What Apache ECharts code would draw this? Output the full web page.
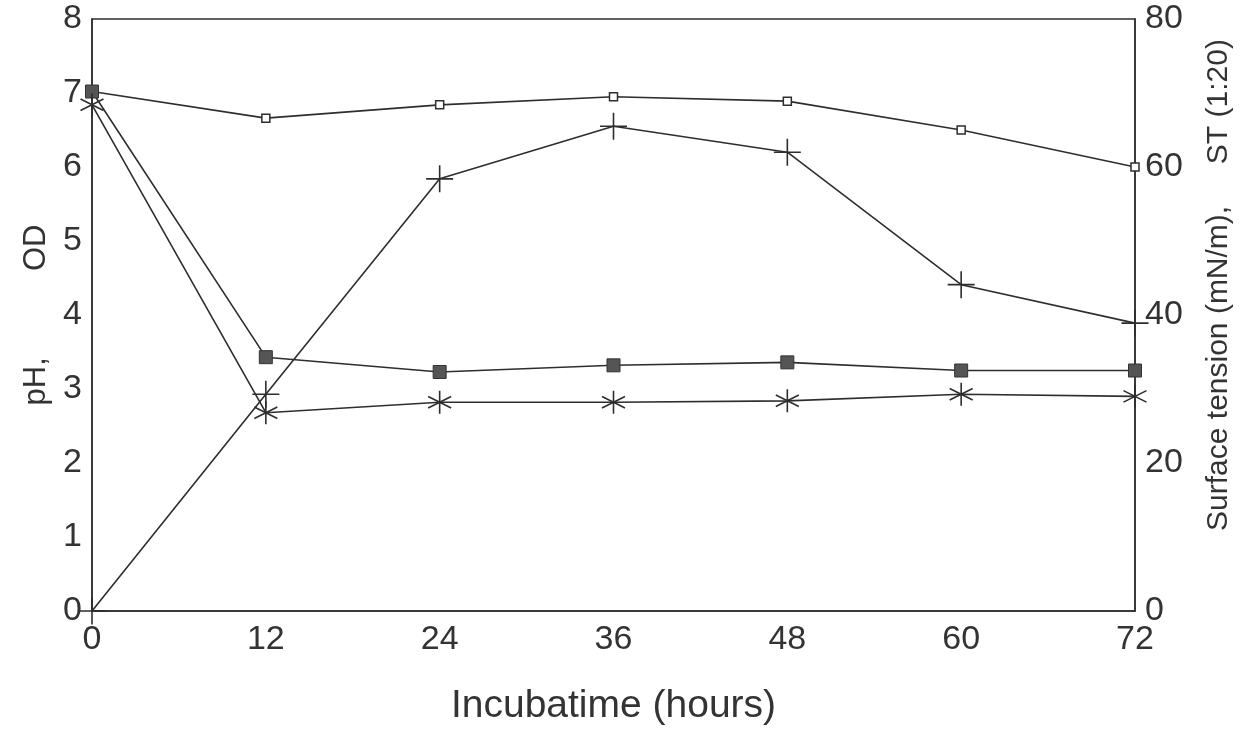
<!DOCTYPE html>
<html>
<head>
<meta charset="utf-8">
<style>
	html,body{
		margin:0;
		padding:0;
		background:#fff;
	}
	#main{
		width:1242px;
		height:731px;
	}
</style>
<script src="https://cdn.jsdelivr.net/npm/echarts@6/dist/echarts.min.js"></script>
</head>
<body>
<div id="main"></div>
<script>
// incubation time, hours
var hours = [0, 12, 24, 36, 48, 60, 72];
// left axis (pH, OD)
var ph = [7.02, 3.43, 3.23, 3.32, 3.36, 3.25, 3.25];
var od = [0, 2.93, 5.84, 6.55, 6.2, 4.41, 3.89];
// right axis (mN/m)
var surfTension = [68.4, 26.8, 28.2, 28.2, 28.4, 29.3, 29.0];
var st20 = [70.2, 66.6, 68.4, 69.5, 68.9, 65, 60];

function pairs(vals){
	return hours.map(function(h, i){ return [h, vals[i]]; });
}

var lineCol = '#2e2e2e';
var txtCol = '#333';
var font = 'Liberation Sans';

var myChart = echarts.init(document.getElementById('main'));
var option = {
	backgroundColor: '#fff',
	animation: false,
	grid: {
		left: 92,
		right: 104,
		top: 19,
		bottom: 119,
		show: true,
		borderColor: lineCol,
		borderWidth: 1.5
	},
	xAxis: {
		type: 'value',
		min: 0,
		max: 72,
		interval: 12,
		name: 'Incubatime (hours)',
		nameLocation: 'middle',
		nameGap: 76,
		nameTextStyle: { fontFamily: font, fontSize: 39, color: txtCol },
		axisLine: { lineStyle: { color: lineCol, width: 1.5 } },
		axisTick: { show: false },
		splitLine: { show: false },
		axisLabel: { fontFamily: font, fontSize: 34, color: txtCol, margin: 12 }
	},
	yAxis: [{
		type: 'value',
		min: 0,
		max: 8,
		interval: 1,
		name: 'pH,          OD',
		nameLocation: 'middle',
		nameGap: 38,
		nameTextStyle: { fontFamily: font, fontSize: 31, color: txtCol },
		axisLine: { show: true, lineStyle: { color: lineCol, width: 1.5 } },
		axisTick: { show: false },
		splitLine: { show: false },
		axisLabel: { fontFamily: font, fontSize: 34, color: txtCol, margin: 10 }
	}, {
		type: 'value',
		min: 0,
		max: 80,
		interval: 20,
		position: 'right',
		name: 'Surface tension (mN/m),     ST (1:20)',
		nameLocation: 'middle',
		nameRotate: 90,
		nameGap: 69,
		nameTextStyle: { fontFamily: font, fontSize: 30, color: txtCol, padding: [0, 0, 0, 60] },
		axisLine: { show: true, lineStyle: { color: lineCol, width: 1.5 } },
		axisTick: { show: false },
		splitLine: { show: false },
		axisLabel: { fontFamily: font, fontSize: 34, color: txtCol, margin: 10 }
	}],
	series: [{
		name: 'ST (1:20)',
		type: 'line',
		yAxisIndex: 1,
		data: pairs(st20),
		symbol: 'rect',
		symbolSize: 8,
		lineStyle: { color: lineCol, width: 1.6 },
		itemStyle: { color: '#fff', borderColor: lineCol, borderWidth: 1.5 }
	}, {
		name: 'OD',
		type: 'line',
		data: pairs(od),
		symbol: 'path://M0,-10L0,10M-10,0L10,0',
		symbolSize: 27,
		lineStyle: { color: lineCol, width: 1.6 },
		itemStyle: { color: 'none', borderColor: lineCol, borderWidth: 1.6 }
	}, {
		name: 'pH',
		type: 'line',
		data: pairs(ph),
		symbol: 'rect',
		symbolSize: 13,
		lineStyle: { color: lineCol, width: 1.6 },
		itemStyle: { color: '#555', borderColor: '#333', borderWidth: 1 }
	}, {
		name: 'Surface tension',
		type: 'line',
		yAxisIndex: 1,
		data: pairs(surfTension),
		symbol: 'path://M0,-10L0,10M-8.66,-5L8.66,5M-8.66,5L8.66,-5',
		symbolSize: 23,
		lineStyle: { color: lineCol, width: 1.6 },
		itemStyle: { color: 'none', borderColor: lineCol, borderWidth: 1.6 }
	}]
};
myChart.setOption(option);
</script>
</body>
</html>
